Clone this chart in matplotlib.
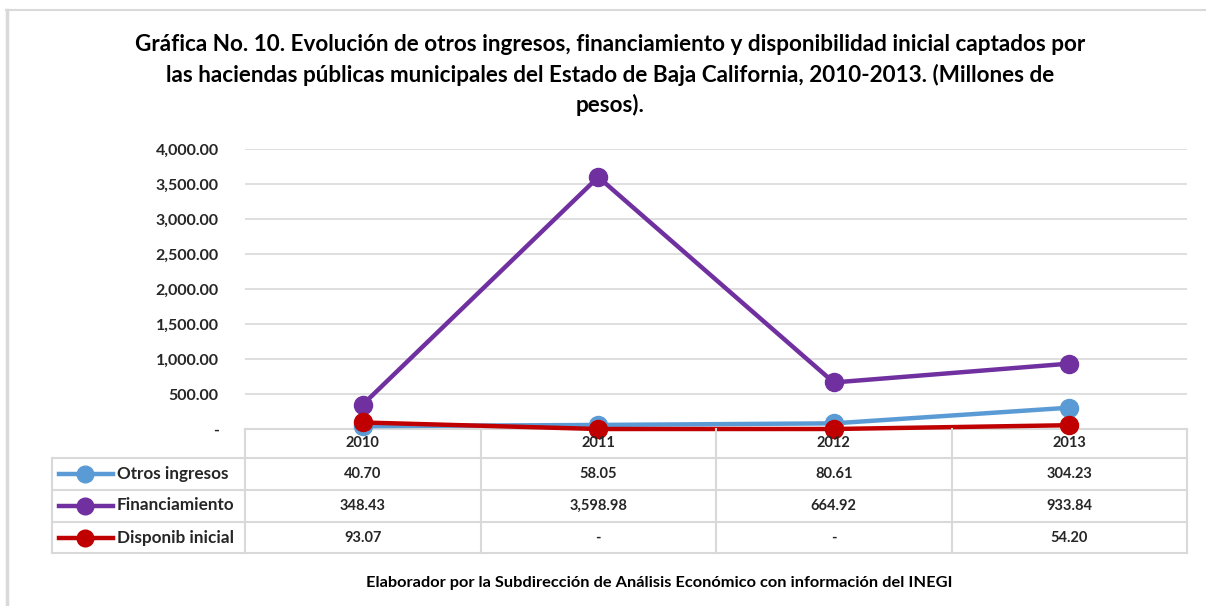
import numpy as np
import matplotlib.pyplot as plt
from matplotlib.lines import Line2D
from matplotlib.transforms import blended_transform_factory

plt.rcParams['font.family'] = ['Lato', 'DejaVu Sans']

years = ['2010', '2011', '2012', '2013']
series_names = ['Otros ingresos', 'Financiamiento', 'Disponib inicial']
otros = [40.70, 58.05, 80.61, 304.23]
financiamiento = [348.43, 3598.98, 664.92, 933.84]
disponib = [93.07, 0.0, 0.0, 54.20]
colors = ['#5B9BD5', '#7030A0', '#C00000']
yticks = np.arange(0, 4001, 500)

W, H = 1206, 606
fig = plt.figure(figsize=(W / 100, H / 100), dpi=100)

def fy(y):
    return 1 - y / H

def fx(x):
    return x / W

# page border
fig.add_artist(Line2D([fx(6), 1], [fy(9.5), fy(9.5)], color='#D9D9D9', lw=1.5))
fig.add_artist(Line2D([fx(7), fx(7)], [fy(9.5), 0], color='#D9D9D9', lw=2.5))

ax = fig.add_axes([fx(245), fy(429), (1187 - 245) / W, 280 / H])
x = np.arange(len(years))
all_series = [otros, financiamiento, disponib]
for vals, c in zip(all_series, colors):
    ax.plot(x, vals, color=c, lw=3.2, marker='o', ms=13, clip_on=False, zorder=3)

ax.set_xlim(-0.5, len(years) - 0.5)
ax.set_ylim(0, 4000)
ax.set_yticks(yticks)
ax.set_yticklabels(['-' if v == 0 else f'{v:,.2f}' for v in yticks],
                   fontsize=11.5, fontweight='bold', color='#262626')
ax.tick_params(axis='y', length=0, pad=19)
ax.set_xticks([])
ax.grid(axis='y', color='#D9D9D9', lw=1.2)
ax.set_axisbelow(True)
for s in ['top', 'right', 'left']:
    ax.spines[s].set_visible(False)
ax.spines['bottom'].set_color('#D9D9D9')
ax.spines['bottom'].set_linewidth(1.5)

# data table below the chart
tr = blended_transform_factory(ax.transData, fig.transFigure)
line_c = '#D9D9D9'
row_edges = [457.5, 490, 521.5, 553]
row_mid = [473.5, 505.5, 537.5]
for b in np.arange(-0.5, len(years), 1.0):
    fig.add_artist(Line2D([b, b], [fy(429), fy(553)], color=line_c, lw=1.5, transform=tr))
for y in row_edges:
    fig.add_artist(Line2D([fx(52), fx(1187)], [fy(y), fy(y)], color=line_c, lw=1.5))
fig.add_artist(Line2D([fx(52), fx(52)], [fy(457.5), fy(553)], color=line_c, lw=1.5))

for i, yr in enumerate(years):
    fig.text(i, fy(443), yr, transform=tr, ha='center', va='center',
             fontsize=10.5, fontweight='bold', color='#262626')

for r, (name, vals, c) in enumerate(zip(series_names, all_series, colors)):
    ym = fy(row_mid[r])
    fig.add_artist(Line2D([fx(59), fx(113)], [ym, ym], color=c, lw=3.2))
    fig.add_artist(Line2D([fx(85)], [ym], color=c, marker='o', ms=12, lw=0))
    fig.text(fx(117), ym, name, ha='left', va='center', fontsize=12.3,
             fontweight='bold', color='#262626')
    for i, v in enumerate(vals):
        lab = '-' if v == 0 else f'{v:,.2f}'
        fig.text(i, ym, lab, transform=tr, ha='center', va='center',
                 fontsize=10.5, fontweight='bold', color='#262626')

fig.text(fx(610), fy(75), 'Gráfica No. 10. Evolución de otros ingresos, financiamiento y disponibilidad inicial captados por\n'
         'las haciendas públicas municipales del Estado de Baja California, 2010-2013. (Millones de\npesos).',
         ha='center', va='center', fontsize=16.2, fontweight='bold', linespacing=1.44)

fig.text(fx(659), fy(583), 'Elaborador por la Subdirección de Análisis Económico con información del INEGI',
         ha='center', va='center', fontsize=11.8, fontweight='bold')

fig.savefig('out.png', dpi=100)
